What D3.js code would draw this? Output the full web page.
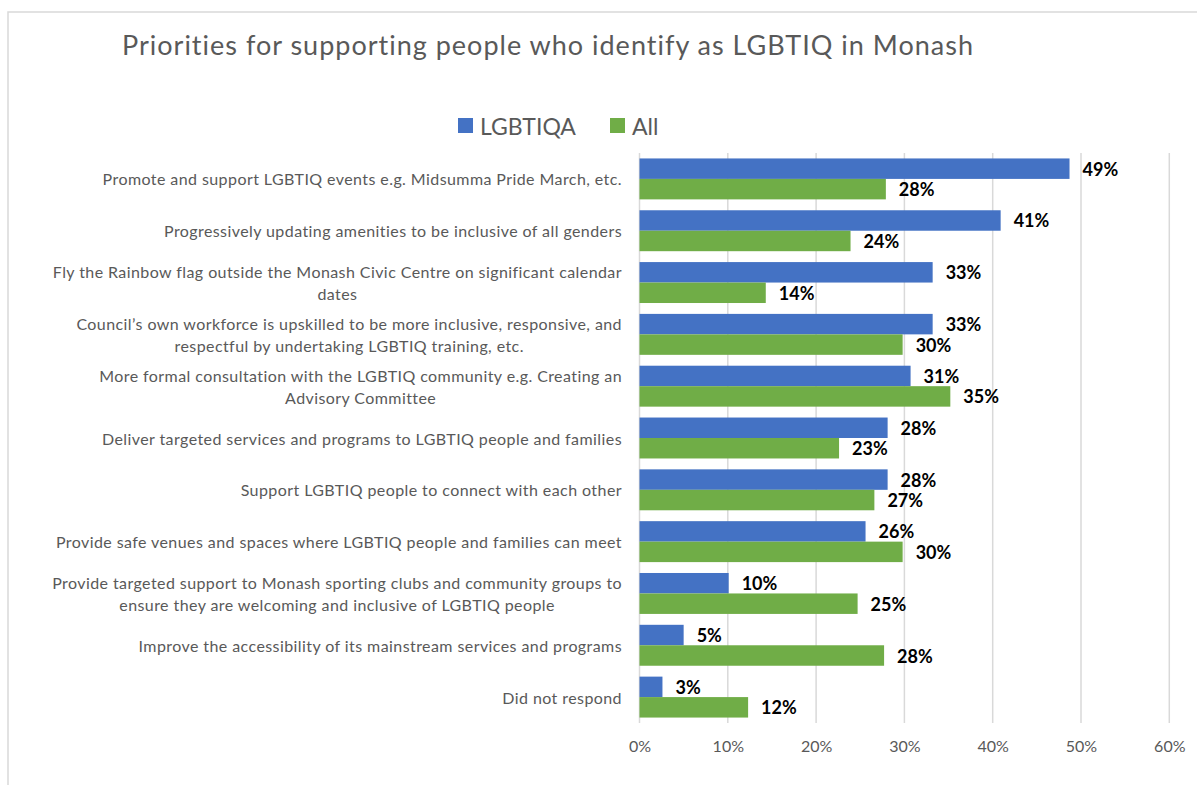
<!DOCTYPE html>
<html>
<head>
<meta charset="utf-8">
<script src="https://cdn.jsdelivr.net/npm/d3@7"></script>
<style>
  html, body { margin: 0; padding: 0; background: #fff; }
  svg { display: block; }
</style>
</head>
<body>
<svg id="chart" width="1197" height="785"></svg>
<script>
const title = "Priorities for supporting people who identify as LGBTIQ in Monash";
const seriesNames = ["LGBTIQA", "All"];
const seriesColors = ["#4472C4", "#70AD47"];
const categories = [
  ["Promote and support LGBTIQ events e.g. Midsumma Pride March, etc."],
  ["Progressively updating amenities to be inclusive of all genders"],
  ["Fly the Rainbow flag outside the Monash Civic Centre on significant calendar", "dates"],
  ["Council\u2019s own workforce is upskilled to be more inclusive, responsive, and", "respectful by undertaking LGBTIQ training, etc."],
  ["More formal consultation with the LGBTIQ community e.g. Creating an", "Advisory Committee"],
  ["Deliver targeted services and programs to LGBTIQ people and families"],
  ["Support LGBTIQ people to connect with each other"],
  ["Provide safe venues and spaces where LGBTIQ people and families can meet"],
  ["Provide targeted support to Monash sporting clubs and community groups to", "ensure they are welcoming and inclusive of LGBTIQ people"],
  ["Improve the accessibility of its mainstream services and programs"],
  ["Did not respond"]
];
const lgbtiqa = [48.7, 40.9, 33.2, 33.2, 30.7, 28.1, 28.1, 25.6, 10.1, 5.0, 2.6];
const allResp = [27.9, 23.9, 14.3, 29.8, 35.2, 22.6, 26.6, 29.8, 24.7, 27.7, 12.3];
const xTicks = [0, 10, 20, 30, 40, 50, 60];

const FONT = "Lato, 'Open Sans', sans-serif";
const svg = d3.select("#chart");

// chart border
svg.append("rect").attr("x", 8).attr("y", 12).attr("width", 1300).attr("height", 900)
  .attr("fill", "#fff").attr("stroke", "#d9d9d9").attr("stroke-width", 1.5);

// title
svg.append("text").attr("x", 548).attr("y", 44).attr("text-anchor", "middle")
  .attr("dominant-baseline", "central")
  .attr("font-family", FONT).attr("font-size", 27).attr("letter-spacing", 1.0).attr("fill", "#595959")
  .text(title);

// legend
const legend = svg.append("g");
const legX = [458, 610];
seriesNames.forEach((n, i) => {
  legend.append("rect").attr("x", legX[i]).attr("y", 118).attr("width", 15).attr("height", 15)
    .attr("fill", seriesColors[i]);
  legend.append("text").attr("x", legX[i] + 22).attr("y", 126).attr("dominant-baseline", "central")
    .attr("font-family", FONT).attr("font-size", 23).attr("fill", "#595959").text(n);
});

const x = d3.scaleLinear().domain([0, 60]).range([639.5, 1169.3]);
const y = d3.scaleBand().domain(d3.range(categories.length)).range([153, 723])
  .paddingInner(0.21).paddingOuter(0.105);
const sub = d3.scaleBand().domain([0, 1]).range([0, y.bandwidth()]);

// gridlines
svg.append("g").selectAll("line").data(xTicks).join("line")
  .attr("x1", d => x(d)).attr("x2", d => x(d)).attr("y1", 153).attr("y2", 723)
  .attr("stroke", "#d9d9d9").attr("stroke-width", 1.5);

// x axis labels
const xAxis = d3.axisBottom(x).tickValues(xTicks).tickFormat(d => d + "%").tickSize(0).tickPadding(0);
const gx = svg.append("g").attr("transform", "translate(0,741)").call(xAxis);
gx.select(".domain").remove();
gx.selectAll("text").attr("font-family", FONT).attr("font-size", 16).attr("fill", "#595959");

// bars
const series = [lgbtiqa, allResp];
const fmt = d3.format(".0%");
series.forEach((vals, si) => {
  const g = svg.append("g");
  g.selectAll("rect").data(vals).join("rect")
    .attr("x", x(0)).attr("y", (d, i) => y(i) + sub(si))
    .attr("width", d => x(d) - x(0)).attr("height", sub.bandwidth())
    .attr("fill", seriesColors[si]);
  g.selectAll("text").data(vals).join("text")
    .attr("x", d => x(d) + 13).attr("y", (d, i) => y(i) + sub(si) + sub.bandwidth() / 2)
    .attr("dominant-baseline", "central")
    .attr("font-family", FONT).attr("font-size", 18).attr("font-weight", "bold").attr("fill", "#000")
    .text(d => fmt(d / 100));
});

// category labels
const labRight = 622;
const lineH = 22;
categories.forEach((lines, i) => {
  const cy = y(i) + y.bandwidth() / 2;
  const g = svg.append("g");
  const texts = lines.map((ln, j) => g.append("text")
    .attr("y", cy + (j - (lines.length - 1) / 2) * lineH)
    .attr("dominant-baseline", "central")
    .attr("text-anchor", "middle")
    .attr("font-family", FONT).attr("font-size", 16).attr("letter-spacing", 0.42).attr("fill", "#595959")
    .text(ln));
  const maxW = d3.max(texts, t => t.node().getComputedTextLength());
  texts.forEach(t => t.attr("x", labRight - maxW / 2));
});
</script>
</body>
</html>
